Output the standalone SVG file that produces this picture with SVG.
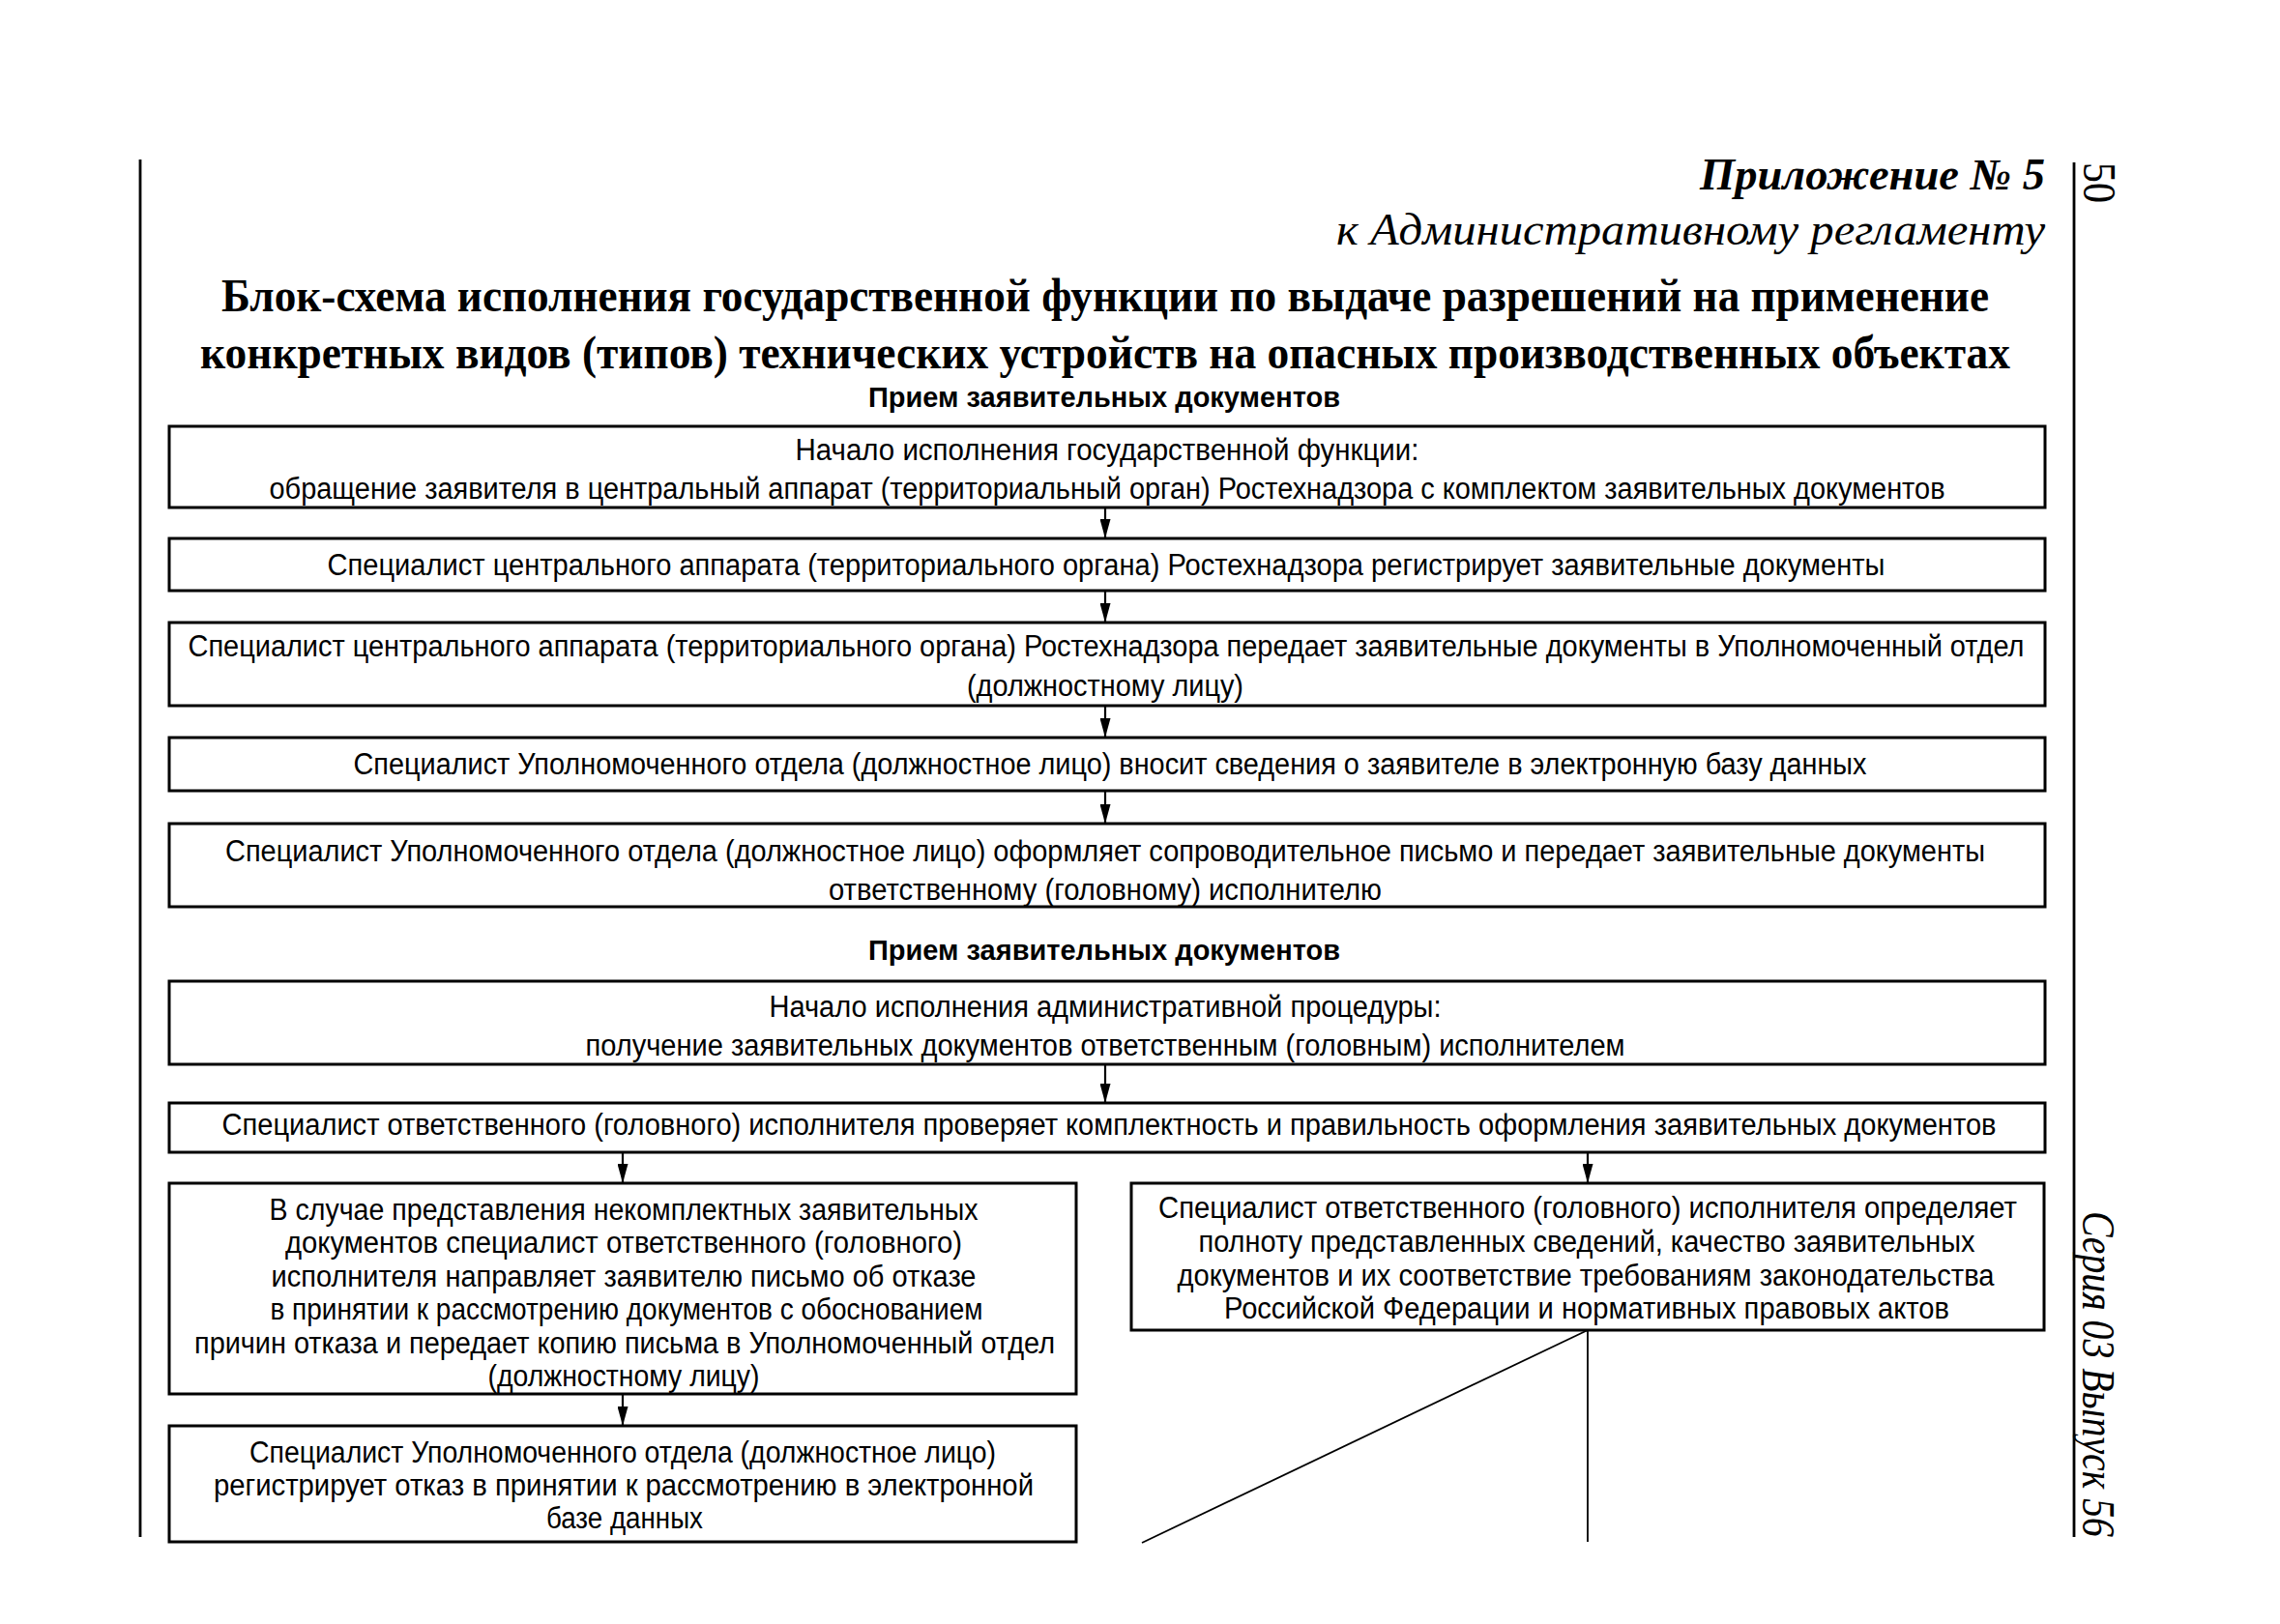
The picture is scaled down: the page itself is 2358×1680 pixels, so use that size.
<svg xmlns="http://www.w3.org/2000/svg" width="2358" height="1680" viewBox="0 0 2358 1680">
<defs>
<style>
.bg{fill:#fff}
.box{fill:#fff;stroke:#000;stroke-width:3}
.pl{stroke:#000;stroke-width:2.8;fill:none}
.cn{stroke:#000;stroke-width:2.2;fill:none}
.ln{stroke:#000;stroke-width:1.8;fill:none}
.t{font-family:"Liberation Sans",Arial,sans-serif;font-size:31px;fill:#000;text-anchor:middle}
.h{font-family:"Liberation Sans",Arial,sans-serif;font-size:29px;font-weight:bold;fill:#000;text-anchor:middle}
.ti{font-family:"Liberation Serif","Times New Roman",serif;font-size:49px;font-weight:bold;fill:#000;text-anchor:middle}
.ap{font-family:"Liberation Serif","Times New Roman",serif;font-size:46px;font-style:italic;fill:#000;text-anchor:end}
.side{font-family:"Liberation Serif","Times New Roman",serif;font-size:48px;fill:#000}
</style>
<marker id="ah" viewBox="0 0 20 11" refX="20" refY="5.5" markerWidth="20" markerHeight="11" orient="auto" markerUnits="userSpaceOnUse">
<path d="M0,0 L20,5.5 L0,11 z" fill="#000"/>
</marker>
</defs>
<rect class="bg" x="0" y="0" width="2358" height="1680"/>

<g id="page">
<line class="pl" x1="145" y1="165" x2="145" y2="1590"/>
<line class="pl" x1="2145" y1="168" x2="2145" y2="1590"/>
<text class="side" transform="translate(2155,168) rotate(90)" textLength="42" lengthAdjust="spacingAndGlyphs">50</text>
<text class="side" font-style="italic" transform="translate(2154,1253) rotate(90)" textLength="337" lengthAdjust="spacingAndGlyphs">Серия 03 Выпуск 56</text>
</g>

<g id="header">
<text class="ap" x="2115" y="196" font-weight="bold" textLength="357" lengthAdjust="spacingAndGlyphs">Приложение № 5</text>
<text class="ap" x="2115" y="253" textLength="733" lengthAdjust="spacingAndGlyphs">к Административному регламенту</text>
<text class="ti" x="1143" y="322" textLength="1828" lengthAdjust="spacingAndGlyphs">Блок-схема исполнения государственной функции по выдаче разрешений на применение</text>
<text class="ti" x="1143" y="381" textLength="1872" lengthAdjust="spacingAndGlyphs">конкретных видов (типов) технических устройств на опасных производственных объектах</text>
<text class="h" x="1142" y="421" textLength="488" lengthAdjust="spacingAndGlyphs">Прием заявительных документов</text>
<text class="h" x="1142" y="993" textLength="488" lengthAdjust="spacingAndGlyphs">Прием заявительных документов</text>
</g>

<g id="connectors">
<line class="cn" x1="1143" y1="526" x2="1143" y2="557" marker-end="url(#ah)"/>
<line class="cn" x1="1143" y1="611" x2="1143" y2="644" marker-end="url(#ah)"/>
<line class="cn" x1="1143" y1="730" x2="1143" y2="763" marker-end="url(#ah)"/>
<line class="cn" x1="1143" y1="818" x2="1143" y2="852" marker-end="url(#ah)"/>
<line class="cn" x1="1143" y1="1101" x2="1143" y2="1141" marker-end="url(#ah)"/>
<line class="cn" x1="644" y1="1192" x2="644" y2="1224" marker-end="url(#ah)"/>
<line class="cn" x1="1642" y1="1192" x2="1642" y2="1224" marker-end="url(#ah)"/>
<line class="cn" x1="644" y1="1442" x2="644" y2="1475" marker-end="url(#ah)"/>
<line class="ln" x1="1642" y1="1376" x2="1642" y2="1595"/>
<line class="ln" x1="1642" y1="1376" x2="1181" y2="1596"/>
</g>

<g id="b1">
<rect class="box" x="175" y="441" width="1940" height="84"/>
<text class="t" x="1145" y="476" textLength="645" lengthAdjust="spacingAndGlyphs">Начало исполнения государственной функции:</text>
<text class="t" x="1145" y="516" textLength="1733" lengthAdjust="spacingAndGlyphs">обращение заявителя в центральный аппарат (территориальный орган) Ростехнадзора с комплектом заявительных документов</text>
</g>
<g id="b2">
<rect class="box" x="175" y="557" width="1940" height="54"/>
<text class="t" x="1144" y="595" textLength="1611" lengthAdjust="spacingAndGlyphs">Специалист центрального аппарата (территориального органа) Ростехнадзора регистрирует заявительные документы</text>
</g>
<g id="b3">
<rect class="box" x="175" y="644" width="1940" height="86"/>
<text class="t" x="1144" y="679" textLength="1899" lengthAdjust="spacingAndGlyphs">Специалист центрального аппарата (территориального органа) Ростехнадзора передает заявительные документы в Уполномоченный отдел</text>
<text class="t" x="1143" y="720" textLength="286" lengthAdjust="spacingAndGlyphs">(должностному лицу)</text>
</g>
<g id="b4">
<rect class="box" x="175" y="763" width="1940" height="55"/>
<text class="t" x="1148" y="801" textLength="1565" lengthAdjust="spacingAndGlyphs">Специалист Уполномоченного отдела (должностное лицо) вносит сведения о заявителе в электронную базу данных</text>
</g>
<g id="b5">
<rect class="box" x="175" y="852" width="1940" height="86"/>
<text class="t" x="1143" y="891" textLength="1820" lengthAdjust="spacingAndGlyphs">Специалист Уполномоченного отдела (должностное лицо) оформляет сопроводительное письмо и передает заявительные документы</text>
<text class="t" x="1143" y="931" textLength="572" lengthAdjust="spacingAndGlyphs">ответственному (головному) исполнителю</text>
</g>
<g id="b6">
<rect class="box" x="175" y="1015" width="1940" height="86"/>
<text class="t" x="1143" y="1052" textLength="695" lengthAdjust="spacingAndGlyphs">Начало исполнения административной процедуры:</text>
<text class="t" x="1143" y="1092" textLength="1075" lengthAdjust="spacingAndGlyphs">получение заявительных документов ответственным (головным) исполнителем</text>
</g>
<g id="b7">
<rect class="box" x="175" y="1141" width="1940" height="51"/>
<text class="t" x="1147" y="1174" textLength="1835" lengthAdjust="spacingAndGlyphs">Специалист ответственного (головного) исполнителя проверяет комплектность и правильность оформления заявительных документов</text>
</g>
<g id="b8">
<rect class="box" x="175" y="1224" width="938" height="218"/>
<text class="t" x="645" y="1262" textLength="733" lengthAdjust="spacingAndGlyphs">В случае представления некомплектных заявительных</text>
<text class="t" x="645" y="1296" textLength="700" lengthAdjust="spacingAndGlyphs">документов специалист ответственного (головного)</text>
<text class="t" x="645" y="1331" textLength="729" lengthAdjust="spacingAndGlyphs">исполнителя направляет заявителю письмо об отказе</text>
<text class="t" x="648" y="1365" textLength="737" lengthAdjust="spacingAndGlyphs">в принятии к рассмотрению документов с обоснованием</text>
<text class="t" x="646" y="1400" textLength="890" lengthAdjust="spacingAndGlyphs">причин отказа и передает копию письма в Уполномоченный отдел</text>
<text class="t" x="645" y="1434" textLength="281" lengthAdjust="spacingAndGlyphs">(должностному лицу)</text>
</g>
<g id="b9">
<rect class="box" x="175" y="1475" width="938" height="120"/>
<text class="t" x="644" y="1513" textLength="772" lengthAdjust="spacingAndGlyphs">Специалист Уполномоченного отдела (должностное лицо)</text>
<text class="t" x="645" y="1547" textLength="848" lengthAdjust="spacingAndGlyphs">регистрирует отказ в принятии к рассмотрению в электронной</text>
<text class="t" x="646" y="1581" textLength="162" lengthAdjust="spacingAndGlyphs">базе данных</text>
</g>
<g id="b10">
<rect class="box" x="1170" y="1224" width="944" height="152"/>
<text class="t" x="1642" y="1260" textLength="888" lengthAdjust="spacingAndGlyphs">Специалист ответственного (головного) исполнителя определяет</text>
<text class="t" x="1641" y="1295" textLength="803" lengthAdjust="spacingAndGlyphs">полноту представленных сведений, качество заявительных</text>
<text class="t" x="1640" y="1330" textLength="845" lengthAdjust="spacingAndGlyphs">документов и их соответствие требованиям законодательства</text>
<text class="t" x="1641" y="1364" textLength="750" lengthAdjust="spacingAndGlyphs">Российской Федерации и нормативных правовых актов</text>
</g>
</svg>
